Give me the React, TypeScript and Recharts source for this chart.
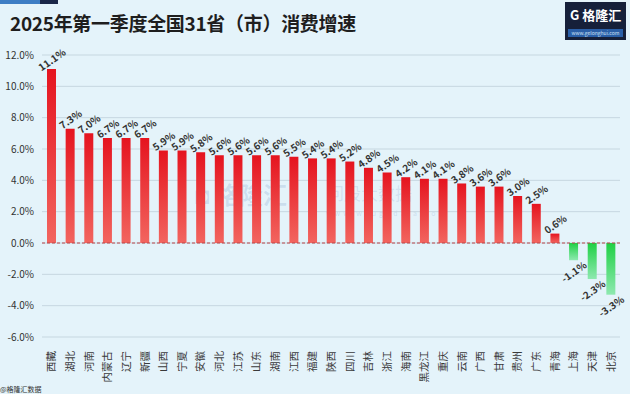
import React from "react";
import {
  Bar,
  BarChart,
  CartesianGrid,
  Cell,
  LabelList,
  ReferenceLine,
  XAxis,
  YAxis,
} from "recharts";

const provinces = [
  "西藏", "湖北", "河南", "内蒙古", "辽宁", "新疆", "山西", "宁夏", "安徽", "河北",
  "江苏", "山东", "湖南", "江西", "福建", "陕西", "四川", "吉林", "浙江", "海南",
  "黑龙江", "重庆", "云南", "广西", "甘肃", "贵州", "广东", "青海", "上海", "天津", "北京",
];
const growth = [
  11.1, 7.3, 7.0, 6.7, 6.7, 6.7, 5.9, 5.9, 5.8, 5.6,
  5.6, 5.6, 5.6, 5.5, 5.4, 5.4, 5.2, 4.8, 4.5, 4.2,
  4.1, 4.1, 3.8, 3.6, 3.6, 3.0, 2.5, 0.6, -1.1, -2.3, -3.3,
];
const yTicks = [-6, -4, -2, 0, 2, 4, 6, 8, 10, 12];

const data = provinces.map((name, i) => ({ name, value: growth[i] }));

const FONT = "'Noto Sans CJK SC', 'Noto Sans', sans-serif";

function ProvinceTick({ x, y, payload }: any) {
  return (
    <text
      x={0}
      y={0}
      transform={`translate(${x + 4},${y + 6}) rotate(-90)`}
      textAnchor="end"
      fontSize={10.5}
      fill="#3a3a3a"
      fontFamily={FONT}
    >
      {payload.value}
    </text>
  );
}

function ValueLabel(props: any) {
  const { x, y, width, height, value } = props;
  const cx = x + width / 2;
  const neg = value < 0;
  // negative bars: y sits at the zero line, height may be negative
  const top = Math.min(y, y + height);
  const bottom = Math.max(y, y + height);
  const ly = neg ? bottom + 11 : top - 10;
  return (
    <text
      x={0}
      y={0}
      transform={`translate(${cx},${ly}) rotate(-35)`}
      textAnchor="middle"
      dominantBaseline="central"
      fontSize={10}
      fontWeight={700}
      fill="#333"
      fontFamily={FONT}
    >
      {value.toFixed(1)}%
    </text>
  );
}

export default function App() {
  return (
    <div
      style={{
        position: "fixed",
        left: 0,
        top: 0,
        width: 630,
        height: 394,
        background: "#e4f3fa",
        overflow: "hidden",
        fontFamily: FONT,
      }}
    >
      <div style={{ position: "absolute", left: 0, top: 0, width: 40, height: 4, background: "#3d7dc4" }} />
      <div style={{ position: "absolute", left: 40, top: 0, width: 18, height: 4, background: "#1a2748" }} />
      <div
        style={{
          position: "absolute",
          left: 10,
          top: 9,
          fontSize: 19,
          fontWeight: 700,
          color: "#1e1e1e",
          letterSpacing: -0.3,
          whiteSpace: "nowrap",
        }}
      >
        2025年第一季度全国31省（市）消费增速
      </div>

      <div
        style={{
          position: "absolute",
          left: 565,
          top: 2,
          width: 61,
          height: 38,
          background: "#16203a",
        }}
      >
        <div
          style={{
            position: "absolute",
            left: 5,
            top: 3,
            fontSize: 13,
            fontWeight: 700,
            color: "#fff",
            whiteSpace: "nowrap",
          }}
        >
          G 格隆汇
        </div>
        <div
          style={{
            position: "absolute",
            left: 3,
            right: 3,
            top: 27,
            height: 8,
            background: "#2a5fa8",
            color: "#cfe0f5",
            fontSize: 5,
            lineHeight: "8px",
            textAlign: "center",
          }}
        >
          www.gelonghui.com
        </div>
      </div>

      <div
        style={{
          position: "absolute",
          left: 195,
          top: 182,
          fontSize: 24,
          lineHeight: "24px",
          fontWeight: 700,
          color: "rgba(70,110,170,0.16)",
          whiteSpace: "nowrap",
        }}
      >
        ◘ 格隆汇
      </div>
      <div
        style={{
          position: "absolute",
          left: 327,
          top: 184,
          fontSize: 17,
          lineHeight: "17px",
          color: "rgba(70,110,170,0.14)",
          whiteSpace: "nowrap",
        }}
      >
        问股大数据
      </div>
      <div
        style={{
          position: "absolute",
          left: 326,
          top: 209,
          fontSize: 7,
          lineHeight: "8px",
          letterSpacing: 3,
          color: "rgba(70,110,170,0.18)",
          whiteSpace: "nowrap",
        }}
      >
        www.wgugudata.com
      </div>
      <div
        style={{
          position: "absolute",
          left: 0,
          top: 384,
          fontSize: 7,
          color: "#333",
          whiteSpace: "nowrap",
        }}
      >
        @格隆汇数据
      </div>

      <div style={{ position: "absolute", left: 0, top: 0 }}>
        <BarChart
          width={630}
          height={394}
          data={data}
          margin={{ top: 55, right: 10, bottom: 0, left: 0 }}
          barCategoryGap={0}
        >
          <defs>
            <linearGradient id="gradRed" x1="0" y1="0" x2="0" y2="1">
              <stop offset="0%" stopColor="#e5141f" />
              <stop offset="100%" stopColor="#f2655f" />
            </linearGradient>
            <linearGradient id="gradGreen" x1="0" y1="0" x2="0" y2="1">
              <stop offset="0%" stopColor="#1fd044" />
              <stop offset="100%" stopColor="#8ee9b0" />
            </linearGradient>
          </defs>
          <CartesianGrid vertical={false} stroke="#c6d7e0" strokeWidth={1} />
          <XAxis
            dataKey="name"
            interval={0}
            axisLine={false}
            tickLine={false}
            height={57}
            tick={<ProvinceTick />}
          />
          <YAxis
            domain={[-6, 12]}
            ticks={yTicks}
            width={42}
            axisLine={false}
            tickLine={false}
            tickFormatter={(v: number) => `${v.toFixed(1)}%`}
            tick={{ fontSize: 10, fill: "#333", fontFamily: FONT }}
          />
          <ReferenceLine y={0} stroke="#b8464a" strokeDasharray="3 2" strokeWidth={1} />
          <Bar dataKey="value" barSize={9} isAnimationActive={false}>
            {data.map((d) => (
              <Cell key={d.name} fill={d.value < 0 ? "url(#gradGreen)" : "url(#gradRed)"} />
            ))}
            <LabelList dataKey="value" content={<ValueLabel />} />
          </Bar>
        </BarChart>
      </div>
    </div>
  );
}
